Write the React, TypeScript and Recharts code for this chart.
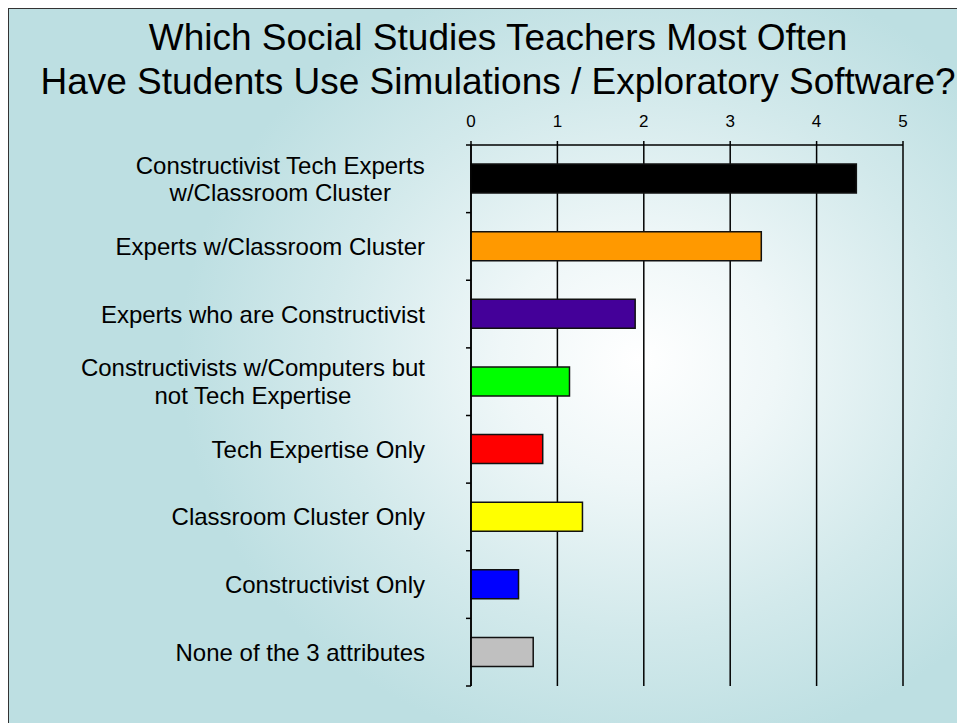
import React from "react";
import {
  BarChart,
  Bar,
  XAxis,
  YAxis,
  CartesianGrid,
  Cell,
} from "recharts";

const TITLE_LINES = [
  "Which Social Studies Teachers Most Often",
  "Have Students Use Simulations / Exploratory Software?",
];

const CATEGORIES = [
  "Constructivist Tech Experts\nw/Classroom Cluster",
  "Experts w/Classroom Cluster",
  "Experts who are Constructivist",
  "Constructivists w/Computers but\nnot Tech Expertise",
  "Tech Expertise Only",
  "Classroom Cluster Only",
  "Constructivist Only",
  "None of the 3 attributes",
];

const VALUES = [4.46, 3.36, 1.9, 1.14, 0.83, 1.29, 0.55, 0.72];

const BAR_COLORS = [
  "#000000", "#ff9900", "#440099", "#00ff00",
  "#ff0000", "#ffff00", "#0000ff", "#c0c0c0",
];

const X_TICKS = [0, 1, 2, 3, 4, 5];

const FONT = '"Liberation Sans", Arial, sans-serif';
const LABEL_SIZE = 24;
const LABEL_LINE = 27.6;

const data = CATEGORIES.map((name, i) => ({ name, value: VALUES[i] }));

let ctx: CanvasRenderingContext2D | null = null;
function textWidth(s: string): number {
  if (!ctx) ctx = document.createElement("canvas").getContext("2d");
  if (!ctx) return s.length * LABEL_SIZE * 0.5;
  ctx.font = `${LABEL_SIZE}px "Liberation Sans"`;
  return ctx.measureText(s).width;
}

// category label, plus the small tick marks sitting on the band edges
function CategoryTick(props: any) {
  const { x, y, payload, index, visibleTicksCount } = props;
  const half = payload.offset || 0;
  const lines = String(payload.value).split("\n");
  const maxW = Math.max(...lines.map(textWidth));
  const center = x - 46 - maxW / 2;
  const y0 = y - ((lines.length - 1) * LABEL_LINE) / 2;
  const isLast = index === visibleTicksCount - 1;
  return (
    <g>
      <line x1={x - 5} x2={x} y1={y - half} y2={y - half} stroke="#000" strokeWidth={1.5} />
      {isLast && (
        <line x1={x - 5} x2={x} y1={y + half} y2={y + half} stroke="#000" strokeWidth={1.5} />
      )}
      {lines.map((line, i) => (
        <text
          key={i}
          x={center}
          y={y0 + i * LABEL_LINE}
          textAnchor="middle"
          dominantBaseline="central"
          fontSize={LABEL_SIZE}
          fontFamily={FONT}
          fill="#000"
        >
          {line}
        </text>
      ))}
    </g>
  );
}

export default function App() {
  return (
    <div
      style={{
        position: "relative",
        width: 957,
        height: 715,
        boxSizing: "border-box",
        borderLeft: "1px solid #333",
        borderTop: "1px solid #333",
        overflow: "hidden",
        background:
          "radial-gradient(ellipse 460px 400px at 630px 350px, #ffffff 0%, #eff7f8 30%, #d2e9eb 68%, #bddfe2 100%)",
      }}
    >
      <div
        style={{
          position: "absolute",
          left: -11,
          top: 7,
          width: 1000,
          textAlign: "center",
          fontFamily: FONT,
          fontSize: 37,
          lineHeight: "44px",
          color: "#000",
        }}
      >
        {TITLE_LINES.map((t) => (
          <div key={t}>{t}</div>
        ))}
      </div>
      <div style={{ position: "absolute", left: 0, top: 0 }}>
        <BarChart
          width={956}
          height={714}
          data={data}
          layout="vertical"
          margin={{ top: 106, right: 62, bottom: 37, left: 0 }}
          barSize={29}
        >
          <CartesianGrid horizontal={false} stroke="#000" strokeWidth={1.5} />
          <XAxis
            type="number"
            orientation="top"
            domain={[0, 5]}
            ticks={X_TICKS}
            height={30}
            tickSize={4}
            tickMargin={14}
            axisLine={{ stroke: "#000", strokeWidth: 1.5 }}
            tickLine={{ stroke: "#000", strokeWidth: 1.5 }}
            tick={{ fontSize: 17, fontFamily: FONT, fill: "#000" }}
            interval={0}
          />
          <YAxis
            type="category"
            dataKey="name"
            width={462}
            tickLine={false}
            tickSize={0}
            tickMargin={0}
            axisLine={{ stroke: "#000", strokeWidth: 1.5 }}
            tick={<CategoryTick />}
            interval={0}
          />
          <Bar dataKey="value" stroke="#111" strokeWidth={1.5} isAnimationActive={false}>
            {data.map((d, i) => (
              <Cell key={d.name} fill={BAR_COLORS[i]} />
            ))}
          </Bar>
        </BarChart>
      </div>
    </div>
  );
}
